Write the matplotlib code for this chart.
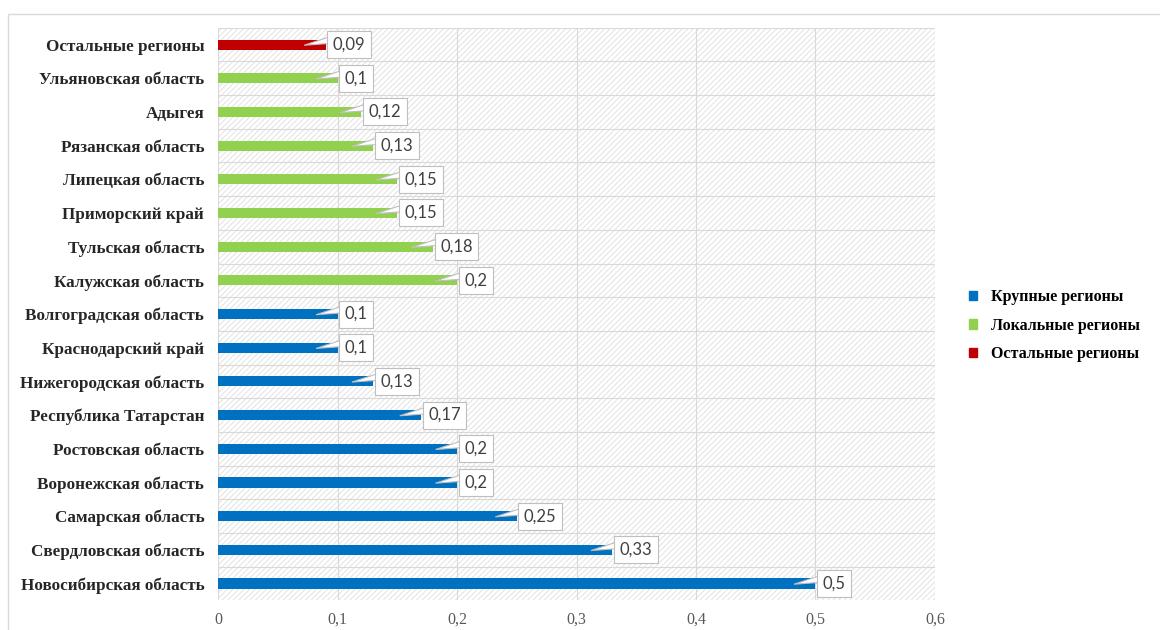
import matplotlib.pyplot as plt
from matplotlib.patches import Patch, Rectangle, Polygon

# данные (снизу вверх)
regions = ['Новосибирская область', 'Свердловская область', 'Самарская область',
           'Воронежская область', 'Ростовская область', 'Республика Татарстан',
           'Нижегородская область', 'Краснодарский край', 'Волгоградская область',
           'Калужская область', 'Тульская область', 'Приморский край',
           'Липецкая область', 'Рязанская область', 'Адыгея',
           'Ульяновская область', 'Остальные регионы']
values = [0.5, 0.33, 0.25, 0.2, 0.2, 0.17, 0.13, 0.1, 0.1,
          0.2, 0.18, 0.15, 0.15, 0.13, 0.12, 0.1, 0.09]
groups = ['Крупные регионы'] * 9 + ['Локальные регионы'] * 7 + ['Остальные регионы']
group_colors = {'Крупные регионы': '#0070C0',
                'Локальные регионы': '#92D050',
                'Остальные регионы': '#C00000'}
xticks = [0, 0.1, 0.2, 0.3, 0.4, 0.5, 0.6]

plt.rcParams['hatch.linewidth'] = 0.6

fig = plt.figure(figsize=(11.6, 6.3), dpi=100)
ax = fig.add_axes([0.188, 0.047, 0.618, 0.909])

# рамка вокруг всей диаграммы
fig.patches.append(Rectangle((0.007, -0.1), 1.1, 1.078, transform=fig.transFigure,
                             fill=False, edgecolor='#d9d9d9', lw=1))

# штриховка фона
ax.add_patch(Rectangle((0, 0), 1, 1, transform=ax.transAxes, fill=False,
                       hatch='//////', edgecolor='#dedede', lw=0, zorder=0))

ypos = list(range(len(regions)))
colors = [group_colors[g] for g in groups]
ax.barh(ypos, values, height=0.3, color=colors, zorder=3)

# подписи-выноски
for y, v in zip(ypos, values):
    txt = ('%g' % v).replace('.', ',')
    x0 = v + 0.006
    ax.add_patch(Polygon([(v - 0.018, y - 0.02), (x0, y + 0.26), (x0, y + 0.04)],
                         closed=True, fc='white', ec='#bfbfbf', lw=0.8, zorder=4))
    ax.text(x0, y, txt, ha='left', va='center', fontsize=12,
            family='Lato', color='#404040', zorder=5,
            bbox=dict(boxstyle='square,pad=0.33', fc='white', ec='#bfbfbf', lw=0.8))

ax.set_xlim(0, 0.6)
ax.set_ylim(-0.5, len(regions) - 0.5)
ax.set_xticks(xticks)
ax.set_xticklabels([('%g' % t).replace('.', ',') for t in xticks],
                   family='Liberation Serif', fontsize=11.5, color='#595959')
ax.set_yticks(ypos)
ax.set_yticklabels(regions, family='Liberation Serif', fontweight='bold',
                   fontsize=12.3, color='#262626')
ax.tick_params(length=0, pad=8)
ax.tick_params(axis='y', pad=10)

# сетка
ax.set_yticks([y + 0.5 for y in ypos[:-1]], minor=True)
ax.tick_params(which='minor', length=0)
ax.grid(axis='x', color='#d9d9d9', lw=0.8, zorder=1)
ax.grid(axis='y', which='minor', color='#d9d9d9', lw=0.8, zorder=1)
for s in ax.spines.values():
    s.set_visible(False)
ax.axhline(len(regions) - 0.5, color='#d9d9d9', lw=0.8)
ax.axvline(0.6, color='#d9d9d9', lw=0.8)

handles = [Patch(color=c, label=g) for g, c in group_colors.items()]
fig.legend(handles=handles, loc='center left', bbox_to_anchor=(0.823, 0.483),
           frameon=False, handlelength=0.5, handleheight=0.5, handletextpad=0.9,
           labelspacing=0.8, prop={'family': 'Liberation Serif', 'weight': 'bold', 'size': 11.5})

fig.savefig('out.png')
